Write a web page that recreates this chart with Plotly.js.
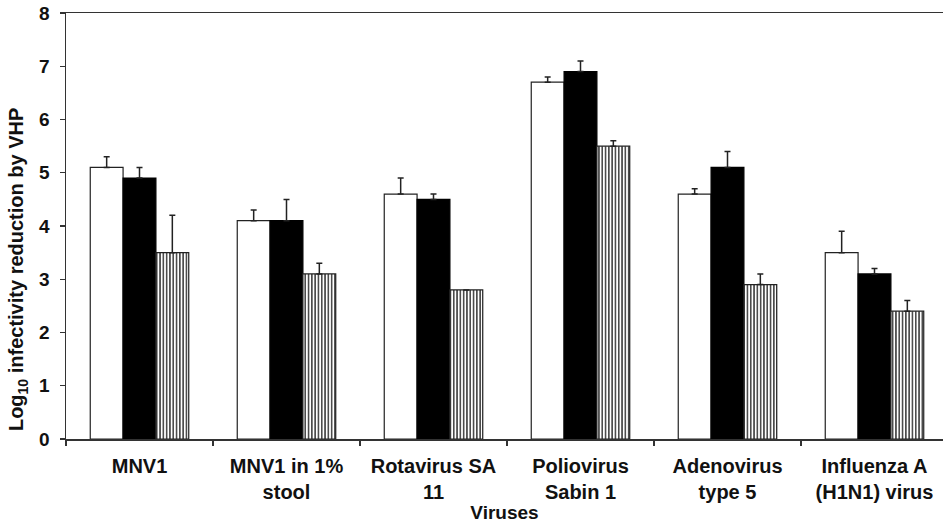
<!DOCTYPE html>
<html>
<head>
<meta charset="utf-8">
<script src="https://cdn.plot.ly/plotly-3.0.1.min.js"></script>
<style>html,body{margin:0;padding:0;background:#fff;}#chart{width:944px;height:523px;}</style>
</head>
<body>
<div id="chart"></div>
<script>
const categories = ["MNV1", "MNV1 in 1%<br>stool", "Rotavirus SA<br>11", "Poliovirus<br>Sabin 1", "Adenovirus<br>type 5", "Influenza A<br>(H1N1) virus"];
const seriesWhite = [5.1, 4.1, 4.6, 6.7, 4.6, 3.5];
const errWhite = [0.2, 0.2, 0.3, 0.1, 0.1, 0.4];
const seriesBlack = [4.9, 4.1, 4.5, 6.9, 5.1, 3.1];
const errBlack = [0.2, 0.4, 0.1, 0.2, 0.3, 0.1];
const seriesStriped = [3.5, 3.1, 2.8, 5.5, 2.9, 2.4];
const errStriped = [0.7, 0.2, 0.0, 0.1, 0.2, 0.2];
const zeros = [0, 0, 0, 0, 0, 0];

const font = "Liberation Sans, Arial, sans-serif";
function errObj(arr) {
  return {type: 'data', array: arr, arrayminus: zeros, symmetric: false, visible: true,
          color: '#222', thickness: 1.5, width: 3};
}
const traces = [
  {type: 'bar', x: categories, y: seriesWhite, name: 'A',
   marker: {color: '#ffffff', line: {color: '#222', width: 1.2}}, error_y: errObj(errWhite)},
  {type: 'bar', x: categories, y: seriesBlack, name: 'B',
   marker: {color: '#000000', line: {color: '#000', width: 1.2}}, error_y: errObj(errBlack)},
  {type: 'bar', x: categories, y: seriesStriped, name: 'C',
   marker: {color: '#ffffff', line: {color: '#222', width: 1.2},
            pattern: {shape: '|', size: 3.3, solidity: 0.35, fgcolor: '#000', bgcolor: '#fff'}},
   error_y: errObj(errStriped)}
];
const layout = {
  width: 944, height: 523,
  margin: {l: 66, r: 1, t: 13, b: 84},
  paper_bgcolor: '#fff', plot_bgcolor: '#fff',
  showlegend: false,
  barmode: 'group', bargap: 0.33, bargroupgap: 0,
  font: {family: font, color: '#111'},
  xaxis: {
    type: 'category', range: [-0.5, 5.466], tickson: 'boundaries',
    ticks: 'outside', ticklen: 5, tickwidth: 1.2, tickcolor: '#333',
    showline: true, linecolor: '#333', linewidth: 1.5, mirror: true,
    showgrid: false, zeroline: false,
    tickfont: {family: font, size: 20, color: '#111', weight: 'bold'},
    ticklabelstandoff: 8,
    title: {text: '<b>Viruses</b>', font: {family: font, size: 19, color: '#111'}, standoff: 4}
  },
  yaxis: {
    range: [0, 8], dtick: 1, ticks: 'outside', ticklen: 5, tickwidth: 1.2, tickcolor: '#333',
    showline: true, linecolor: '#333', linewidth: 1.5,
    showgrid: false, zeroline: false,
    tickfont: {family: font, size: 19, color: '#111', weight: 'bold'},
    ticklabelstandoff: 6
  },
  annotations: [{
    xref: 'paper', yref: 'paper', x: -0.0545, y: 0.397, xanchor: 'center', yanchor: 'middle',
    textangle: -90, showarrow: false,
    text: '<b>Log<sub>10</sub> infectivity reduction by VHP</b>',
    font: {family: font, size: 20, color: '#111'}
  }]
};
Plotly.newPlot('chart', traces, layout, {displayModeBar: false, staticPlot: true});
</script>
</body>
</html>
